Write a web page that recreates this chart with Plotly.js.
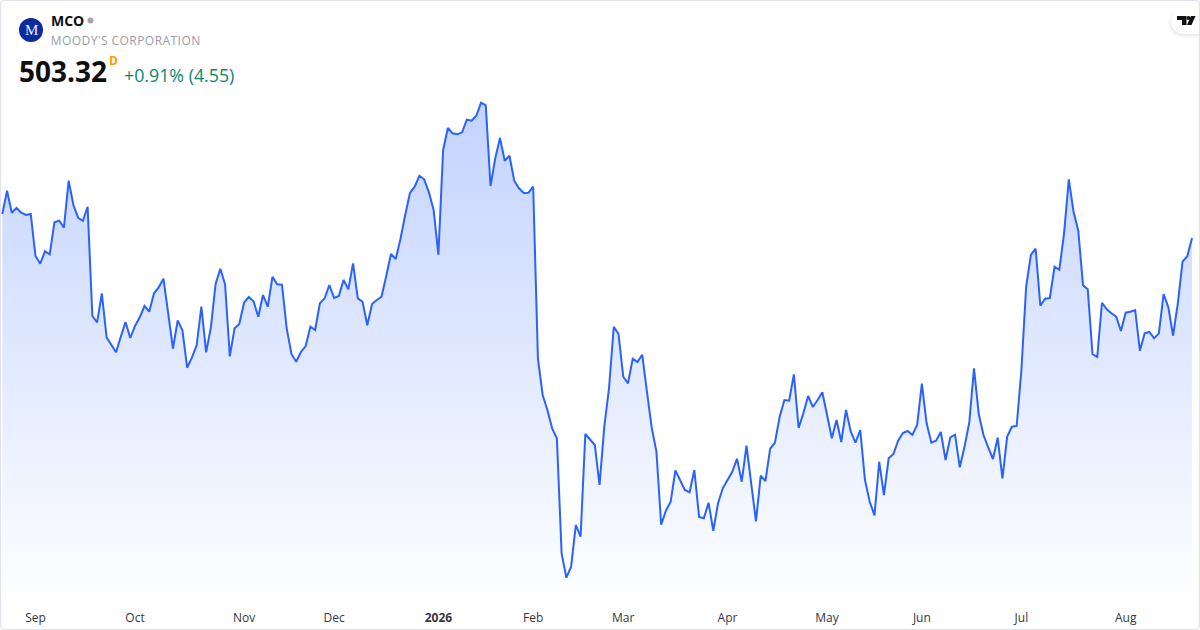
<!DOCTYPE html>
<html>
<head>
<meta charset="utf-8">
<script src="https://cdn.plot.ly/plotly-3.0.1.min.js"></script>
<style>html,body{margin:0;padding:0;background:#fff;overflow:hidden}#chart{width:1200px;height:630px}</style>
</head>
<body>
<div id="chart"></div>
<script>
const closes = [
509.32,515.14,509.64,510.82,509.64,509.07,509.32,498.82,496.89,499.99,
499.24,507.24,507.64,505.89,517.64,511.57,508.39,507.64,511.14,483.82,
482.24,489.49,478.49,476.74,474.74,478.64,482.32,478.32,481.32,483.49,
486.32,484.89,489.49,490.99,493.14,484.49,475.64,482.74,480.24,470.89,
473.39,476.49,486.14,474.74,480.99,491.82,495.64,491.74,473.74,480.74,
481.82,487.14,488.57,487.49,483.64,489.07,486.14,493.64,491.74,491.64,
480.74,474.32,472.39,474.82,476.32,481.14,480.32,486.99,488.24,491.57,
488.32,488.82,492.82,490.49,496.99,488.24,487.39,481.49,486.82,487.82,
488.64,493.82,499.32,498.07,503.07,509.07,514.57,516.14,518.89,517.99,
514.74,510.32,499.14,525.32,530.82,529.49,529.24,529.74,532.89,532.64,
533.89,537.14,536.49,516.32,523.24,528.32,522.64,523.89,517.64,515.74,
514.57,514.64,516.14,473.24,464.07,460.32,455.74,453.24,424.49,418.39,
421.14,431.57,428.64,454.32,452.99,451.57,441.57,456.14,465.74,481.14,
479.32,468.64,466.99,473.14,472.32,474.14,464.89,455.99,449.89,431.64,
435.14,437.39,445.24,442.82,440.32,439.74,445.32,433.57,433.24,437.14,
430.14,436.99,440.74,442.82,444.89,448.14,442.39,451.39,441.99,432.49,
443.89,442.57,450.64,452.14,458.64,462.82,462.64,469.24,455.82,459.49,
463.82,461.07,462.82,464.74,459.07,453.24,457.82,452.32,460.32,454.89,
452.14,455.32,442.82,437.39,433.99,447.39,439.07,448.24,449.32,452.64,
454.57,455.07,454.07,456.57,466.89,456.99,452.14,452.64,454.82,447.82,
453.49,454.14,445.99,451.14,457.14,470.74,459.32,454.07,450.99,448.07,
453.39,443.24,453.69,456.14,456.32,470.32,491.14,499.07,500.64,486.39,
488.14,488.32,496.14,495.39,504.49,517.99,509.89,505.14,491.49,490.49,
474.32,473.57,487.14,485.49,484.49,483.64,480.07,484.64,484.89,485.32,
475.14,479.49,479.82,478.24,479.49,489.32,485.99,478.89,486.99,497.39,
498.77,503.32
];
const tickIndex = [7,28,51,70,92,112,131,153,174,194,215,237];
const tickLabels = ['Sep','Oct','Nov','Dec','<b>2026</b>','Feb','Mar','Apr','May','Jun','Jul','Aug'];
const symbol = 'MCO';
const company = "MOODY'S CORPORATION";
const lastPrice = '503.32';
const changeText = '+0.91% (4.55)';

const W = 1200, H = 630, PLOT_B = 609;
const px = x => x / W;
const py = y => 1 - y / PLOT_B;
const pathOf = pts => pts.map((p, i) => (i ? 'L' : 'M') + px(p[0]).toFixed(5) + ',' + py(p[1]).toFixed(5)).join(' ') + ' Z';

function note(text, x, y, size, color, family, anchor) {
  return {text, x: px(x), y: py(y), xref: 'paper', yref: 'paper', xanchor: anchor || 'left', yanchor: 'middle',
    showarrow: false, borderpad: 0, font: {size, color, family: family || '"Open Sans", sans-serif'}};
}
function circle(cx, cy, r, color) {
  return {type: 'circle', xref: 'paper', yref: 'paper', x0: px(cx - r), x1: px(cx + r), y0: py(cy + r), y1: py(cy - r),
    fillcolor: color, line: {width: 0}, layer: 'above'};
}
function pill(x0, y0, x1, y1, color, op) {
  const r = (y1 - y0) / 2, cx = x0 + r, cy = (y0 + y1) / 2, pts = [[1199, y0]];
  pts.push([1199, y1]);
  for (let a = 90; a <= 270; a += 10) {
    const t = a * Math.PI / 180;
    pts.push([cx + r * Math.cos(t), cy + r * Math.sin(t)]);
  }
  return {type: 'path', xref: 'paper', yref: 'paper', path: pathOf(pts), fillcolor: color, opacity: op, line: {width: 0}, layer: 'above'};
}

const trace = {
  x: closes.map((_, i) => i),
  y: closes,
  type: 'scatter',
  mode: 'lines',
  line: {color: '#2962ff', width: 2, shape: 'linear'},
  fill: 'tozeroy',
  fillcolor: 'rgba(41,98,255,0.25)',
  fillgradient: {type: 'vertical', start: 410.57, stop: 537.14,
    colorscale: [[0, 'rgba(41,98,255,0.0)'], [1, 'rgba(41,98,255,0.28)']]},
  hoverinfo: 'skip'
};

const layout = {
  width: W, height: H,
  margin: {l: 0, r: 0, t: 0, b: H - PLOT_B, pad: 0},
  paper_bgcolor: '#ffffff', plot_bgcolor: '#ffffff',
  showlegend: false,
  xaxis: {range: [-0.485, 252.68], tickmode: 'array', tickvals: tickIndex, ticktext: tickLabels,
    showgrid: false, zeroline: false, showline: false, ticks: '', ticklen: 0,
    tickfont: {family: '"Open Sans", sans-serif', size: 12, color: '#333842'}, fixedrange: true},
  yaxis: {range: [410.57, 562.82], visible: false, showgrid: false, zeroline: false, fixedrange: true},
  shapes: [
    {type: 'path', xref: 'paper', yref: 'paper', layer: 'above', fillcolor: 'rgba(0,0,0,0)', line: {color: '#e0e3eb', width: 1.2},
      path: pathOf([[0.5,3],[1.5,1.5],[3,0.5],[1197,0.5],[1198.5,1.5],[1199.5,3],[1199.5,627],[1198.5,628.5],[1197,629.5],[3,629.5],[1.5,628.5],[0.5,627]])},
    pill(1168, 11, 1200, 38, '#000000', 0.015),
    pill(1169, 10, 1200, 37, '#000000', 0.025),
    pill(1170, 9.5, 1200, 35.5, '#000000', 0.035),
    pill(1171, 9, 1200, 34, '#ffffff', 1),
    {type: 'path', xref: 'paper', yref: 'paper', layer: 'above', fillcolor: '#111111', line: {width: 0},
      path: pathOf([[1177,16],[1186.5,16],[1186.5,25],[1182,25],[1182,20],[1177,20]])},
    {type: 'path', xref: 'paper', yref: 'paper', layer: 'above', fillcolor: '#111111', line: {width: 0},
      path: pathOf([[1191,16],[1195.5,16],[1191.5,25],[1187,25]])},
    circle(1188.5, 18, 2, '#111111'),
    circle(31, 30, 12, '#0b2a9e'),
    circle(90.5, 20.5, 3, '#a6a6a6')
  ],
  annotations: [
    note('M', 31, 30.5, 15, '#e8ecff', '"Liberation Serif", serif', 'center'),
    note('<b>' + symbol + '</b>', 50, 21, 14, '#0f0f0f'),
    note(company, 54, 40, 12, '#9a9da5'),
    note('<b>' + lastPrice + '</b>', 18, 71, 28, '#0f0f0f'),
    note('<b>D</b>', 108, 61, 12, '#ff9800'),
    note(changeText, 123, 75, 17.8, '#0a8870')
  ]
};
Plotly.newPlot('chart', [trace], layout, {displayModeBar: false, staticPlot: true}).then(() => {
  document.querySelectorAll('.annotation-text').forEach(t => {
    if (t.textContent === company) t.style.letterSpacing = '0.45px';
  });
});
</script>
</body>
</html>
